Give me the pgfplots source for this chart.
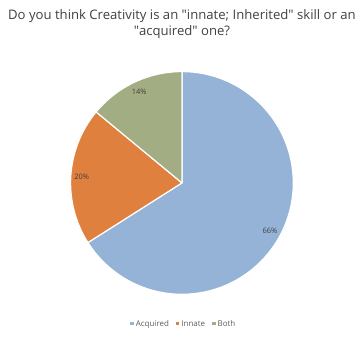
\documentclass[border=0pt]{standalone}
\usepackage{pgfplots}
\pgfplotsset{compat=1.18}
\usepackage{pgfplotstable}
\usetikzlibrary{calc}
\usepackage{fontspec}
\setmainfont{Open Sans}
\definecolor{pie0}{HTML}{95B3D7}
\definecolor{pie1}{HTML}{E0803F}
\definecolor{pie2}{HTML}{A3AD84}
\definecolor{txt}{HTML}{404040}
\pgfplotstableread{
label value
Acquired 66
Innate 20
Both 14
}\piedata
\begin{document}
\begin{tikzpicture}
\begin{axis}[
  scale only axis, width=359pt, height=338pt,
  xmin=0, xmax=359, ymin=0, ymax=338,
  hide axis, clip=false,
  legend columns=3,
  legend style={at={(0.515,0.036)}, anchor=center, draw=none, fill=none,
    font=\fontsize{8}{9}\selectfont\color{txt!85},
    /tikz/every even column/.append style={column sep=5pt}},
  legend image code/.code={\fill[#1, draw=none] (0pt,-1.4pt) rectangle (3.6pt,2.2pt);},
]
\path (axis cs:0,0) rectangle (axis cs:359,338);
\def\cur{90}
\pgfplotsforeachungrouped \i in {0,1,2}{%
  \pgfplotstablegetelem{\i}{value}\of\piedata
  \let\val\pgfplotsretval
  \pgfmathsetmacro\nxt{\cur-\val*3.6}%
  \pgfmathsetmacro\mid{(\cur+\nxt)/2}%
  \edef\temp{\noexpand\fill[pie\i, draw=white, line width=1.2pt, line join=round]
     (axis cs:183,154) -- ++(\cur:112pt) arc[start angle=\cur, end angle=\nxt, radius=112pt] -- cycle;
     \noexpand\node[font=\noexpand\fontsize{7.5}{8}\noexpand\selectfont, text=txt] at ($(axis cs:183,154)+(\mid:101pt)$) {\val\noexpand\%};}%
  \temp
  \let\cur\nxt
}
\addlegendimage{fill=pie0}\addlegendentry{Acquired}
\addlegendimage{fill=pie1}\addlegendentry{Innate}
\addlegendimage{fill=pie2}\addlegendentry{Both}
\node[align=center, text=txt, font=\fontsize{13.2}{16}\selectfont] at (axis cs:183,314)
  {Do you think Creativity is an \textquotedbl innate; Inherited\textquotedbl{} skill or an\\\textquotedbl acquired\textquotedbl{} one?};
\end{axis}
\end{tikzpicture}
\end{document}
